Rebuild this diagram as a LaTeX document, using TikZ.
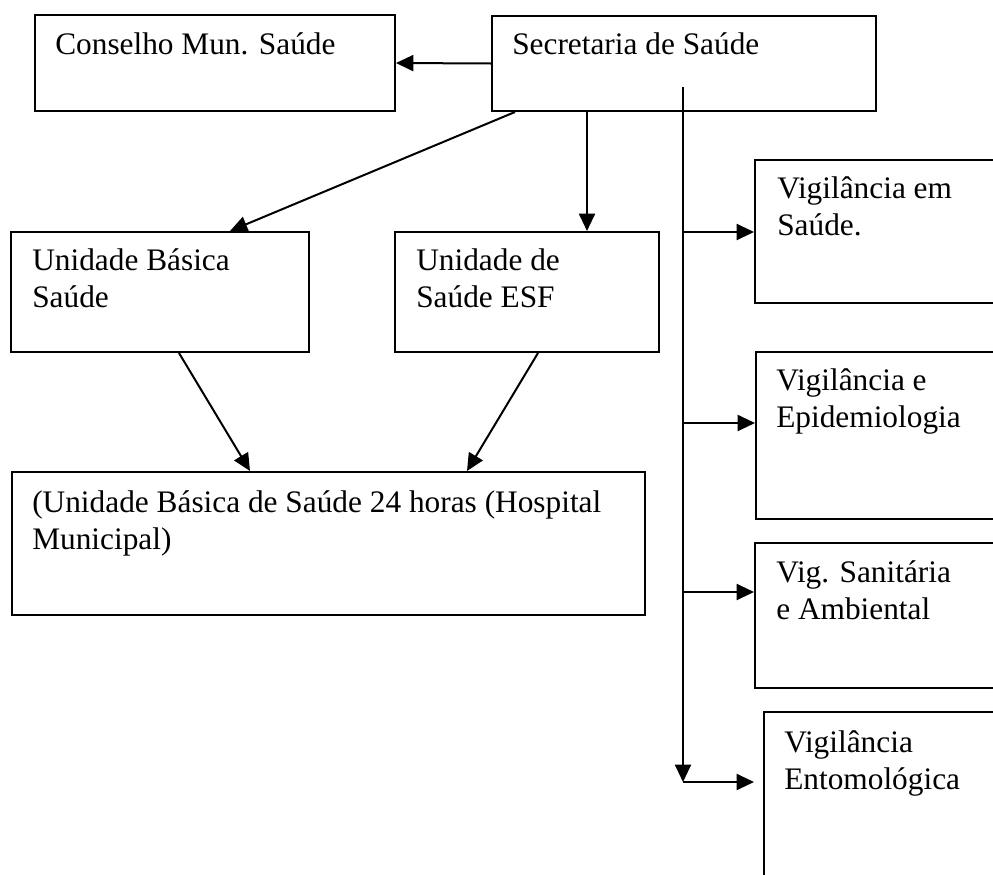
\documentclass[tikz,border=0pt]{standalone}
\usepackage{fontspec}
\setmainfont{Liberation Serif}
\usetikzlibrary{calc,arrows.meta}
\newcommand\twolinetext[2]{\vtop{\hbox{#1}\hbox{#2}}}
\begin{document}
\begin{tikzpicture}[x=0.75pt,y=-0.75pt,
  box/.style={draw,line width=1.5pt,rectangle,inner sep=0pt,anchor=north west},
  sz/.style 2 args={minimum width={#1*0.75pt},minimum height={#2*0.75pt}},
  lbl/.style={anchor=base west,inner sep=0pt,font=\fontsize{23.5}{28}\selectfont},
  arr/.style={line width=1.5pt,-{Triangle[length=13pt,width=12pt]}},
  ln/.style={line width=1.5pt}]
\clip (0,0) rectangle (993,875);
\fill[white] (0,0) rectangle (993,875);
% boxes
\node[box,sz={360}{96}] (cons) at (34,14) {};
\node[box,sz={384}{95}] (sec) at (491,15) {};
\node[box,sz={298}{120}] (ubs) at (10,231) {};
\node[box,sz={264}{120}] (esf) at (394,231) {};
\node[box,sz={633}{143}] (big) at (11,471) {};
\node[box,sz={300}{143}] (vsaude) at (754,159) {};
\node[box,sz={300}{167}] (vepi) at (755,351) {};
\node[box,sz={300}{145}] (vsan) at (754,542) {};
\node[box,sz={300}{250}] (vento) at (763,711) {};
% texts
\node[lbl] (tcons) at ($(cons.north west)+(21,40)$) {Conselho Mun. Saúde};
\node[lbl] (tsec) at ($(sec.north west)+(21,39)$) {Secretaria de Saúde};
\node[lbl] (tubs) at ($(ubs.north west)+(22,39)$) {\twolinetext{Unidade Básica}{Saúde}};
\node[lbl] (tesf) at ($(esf.north west)+(22,39)$) {\twolinetext{Unidade de}{Saúde ESF}};
\node[lbl] (tbig) at ($(big.north west)+(21,41)$) {\twolinetext{(Unidade Básica de Saúde 24 horas (Hospital}{Municipal)}};
\node[lbl] (tvsaude) at ($(vsaude.north west)+(23,39)$) {\twolinetext{Vigilância em}{Saúde.}};
\node[lbl] (tvepi) at ($(vepi.north west)+(21,39)$) {\twolinetext{Vigilância e}{Epidemiologia}};
\node[lbl] (tvsan) at ($(vsan.north west)+(22,40)$) {\twolinetext{Vig. Sanitária}{e Ambiental}};
\node[lbl] (tvento) at ($(vento.north west)+(21,41)$) {\twolinetext{Vigilância}{Entomológica}};
% connectors
\draw[arr] (sec.west) -- (cons.east);
\draw[arr] ($(sec.south west)+(24,0)$) -- ($(ubs.north west)+(220,0)$);
\draw[arr] ($(sec.south west)+(96,0)$) -- ($(esf.north west)+(193,0)$);
\draw[arr] ($(ubs.south west)+(169,0)$) -- ($(big.north west)+(239,0)$);
\draw[arr] ($(esf.south west)+(144,0)$) -- ($(big.north west)+(456,0)$);
% trunk
\coordinate (ttop) at (683,87);
\coordinate (tbot) at (683,782);
\coordinate (b1) at (683,232);
\coordinate (b2) at (683,423);
\coordinate (b3) at (683,592);
\draw[arr] (ttop) -- (tbot);
\draw[arr] (b1) -- (b1 -| vsaude.west);
\draw[arr] (b2) -- (b2 -| vepi.west);
\draw[arr] (b3) -- (b3 -| vsan.west);
\draw[arr,shorten >=6.75pt] (tbot) -- (tbot -| vento.west);
\end{tikzpicture}
\end{document}
